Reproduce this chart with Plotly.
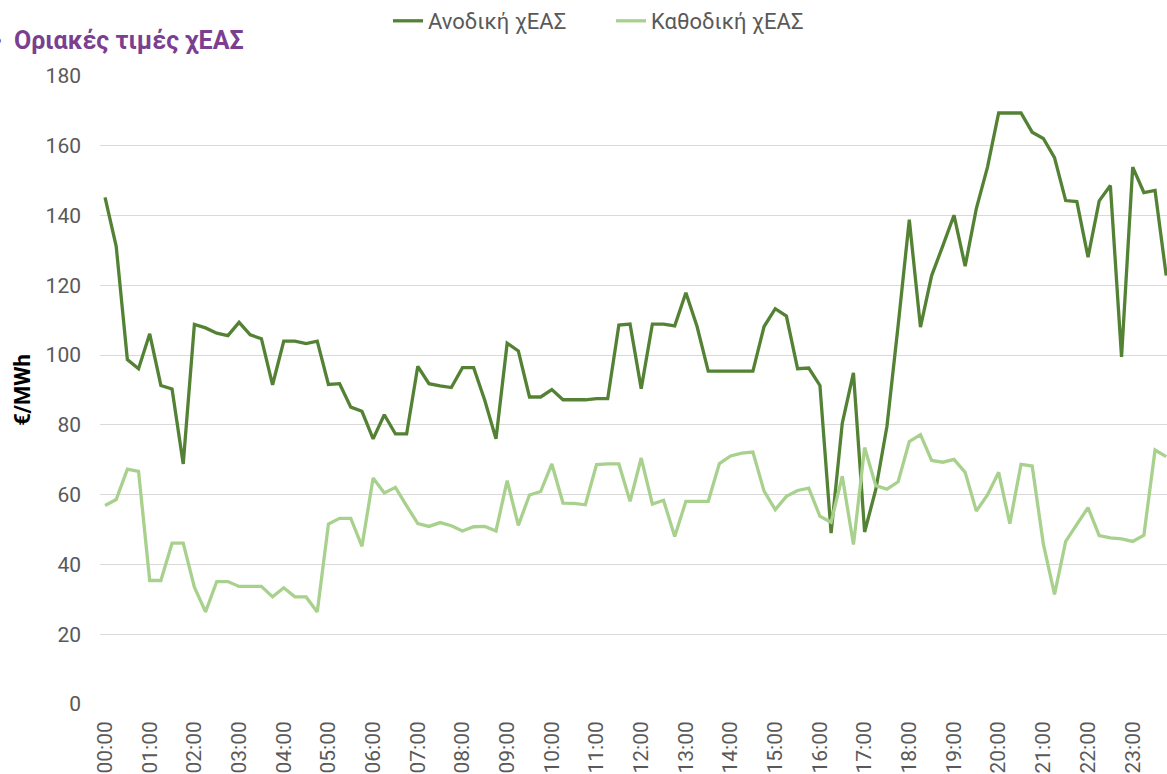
import plotly.graph_objects as go

# 15-minute intervals of the day (categories)
times = [f"{h:02d}:{m:02d}" for h in range(24) for m in (0, 15, 30, 45)]
hour_ticks = [f"{h:02d}:00" for h in range(24)]

upward = [
    145.2, 131.2, 98.7, 96.1, 106.1, 91.3, 90.3, 68.8,
    108.8, 107.8, 106.3, 105.6, 109.4, 105.8, 104.7, 91.5,
    104.0, 104.0, 103.3, 104.0, 91.6, 91.8, 85.1, 83.9,
    76.0, 82.9, 77.4, 77.4, 96.8, 91.8, 91.2, 90.7,
    96.4, 96.4, 87.0, 76.0, 103.4, 101.2, 88.0, 88.0,
    90.1, 87.2, 87.2, 87.2, 87.5, 87.5, 108.6, 108.9,
    90.4, 108.9, 108.9, 108.4, 117.9, 108.2, 95.4, 95.4,
    95.4, 95.4, 95.4, 108.2, 113.3, 111.2, 96.1, 96.3,
    91.3, 49.0, 80.5, 94.9, 49.3, 61.5, 79.6, 108.5,
    138.8, 108.0, 122.8, 131.3, 140.1, 125.5, 142.0, 153.9,
    169.4, 169.4, 169.4, 163.9, 162.1, 156.6, 144.3, 144.0,
    128.1, 144.2, 148.6, 99.5, 153.9, 146.6, 147.2, 122.8,
]

downward = [
    56.9, 58.6, 67.3, 66.7, 35.4, 35.4, 46.1, 46.1,
    33.5, 26.4, 35.1, 35.1, 33.7, 33.7, 33.7, 30.7,
    33.3, 30.7, 30.7, 26.4, 51.6, 53.2, 53.2, 45.2,
    64.8, 60.5, 62.1, 56.8, 51.7, 50.9, 52.0, 51.1,
    49.6, 50.8, 50.9, 49.6, 64.0, 51.2, 59.9, 60.9,
    68.8, 57.6, 57.5, 57.1, 68.6, 68.8, 68.8, 58.1,
    70.5, 57.3, 58.4, 48.0, 58.1, 58.1, 58.1, 68.9,
    71.1, 71.9, 72.2, 61.0, 55.7, 59.5, 61.2, 61.9,
    53.8, 52.1, 65.3, 45.7, 73.5, 62.6, 61.6, 63.7,
    75.2, 77.2, 69.8, 69.3, 70.1, 66.4, 55.3, 59.9,
    66.4, 51.7, 68.7, 68.2, 45.9, 31.4, 46.6, 51.5,
    56.3, 48.3, 47.6, 47.3, 46.6, 48.4, 72.8, 70.9,
]

series_names = ["Ανοδική χΕΑΣ", "Καθοδική χΕΑΣ"]
series_colors = ["#548235", "#A9D18E"]
title_text = "Οριακές τιμές χΕΑΣ"
y_title = "€/MWh"

W, H = 1167, 774
ML, MR, MT, MB = 100, 0, 76, 70
plot_w = W - ML - MR
plot_h = H - MT - MB

fig = go.Figure()
for name, vals, col in zip(series_names, [upward, downward], series_colors):
    fig.add_trace(go.Scatter(
        x=times, y=vals, mode="lines", name=name,
        line=dict(color=col, width=3.3),
    ))

FONT = "Roboto, Arial, sans-serif"
GRAY = "#595959"

fig.update_layout(
    width=W, height=H,
    margin=dict(l=ML, r=MR, t=MT, b=MB, pad=0, autoexpand=False),
    paper_bgcolor="white", plot_bgcolor="white",
    font=dict(family=FONT, size=21, color=GRAY),
    showlegend=True,
    legend=dict(
        orientation="h",
        xref="container", yref="container",
        x=388 / W, xanchor="left",
        y=1.0, yanchor="top",
        font=dict(family=FONT, size=22, color=GRAY),
        entrywidth=178, entrywidthmode="pixels",
        bgcolor="rgba(0,0,0,0)",
    ),
    xaxis=dict(
        type="category",
        categoryorder="array", categoryarray=times,
        range=[-0.45, 95.07],
        tickmode="array", tickvals=hour_ticks, ticktext=hour_ticks,
        tickangle=-90,
        tickfont=dict(family=FONT, size=21, color=GRAY),
        showgrid=False, zeroline=False,
        showline=False, ticks="",
        ticklabelstandoff=12,
        automargin=False,
        fixedrange=True,
    ),
    yaxis=dict(
        range=[0, 180],
        tickmode="array", tickvals=list(range(0, 181, 20)),
        tickfont=dict(family=FONT, size=21, color=GRAY),
        showgrid=True, gridcolor="#D9D9D9", gridwidth=1.3,
        zeroline=False, showline=False, ticks="",
        ticklabelstandoff=18,
        automargin=False,
        title=dict(text="<b>" + y_title + "</b>",
                   font=dict(family=FONT, size=22, color="black"),
                   standoff=8),
        fixedrange=True,
    ),
)

fig.add_annotation(
    xref="paper", yref="paper",
    x=(12 - ML) / plot_w, y=(H - MB - 40) / plot_h,
    xanchor="left", yanchor="middle",
    text="<b>" + title_text + "</b>", showarrow=False,
    font=dict(family=FONT, size=25, color="#7B3F91"),
)
fig.add_annotation(
    xref="paper", yref="paper",
    x=(-3 - ML) / plot_w, y=(H - MB - 40) / plot_h,
    xanchor="center", yanchor="middle",
    text="●", showarrow=False,
    font=dict(family=FONT, size=15, color="#7B3F91"),
)

fig.write_html(
    "out.html",
    config={"displayModeBar": False},
    post_script="document.body.style.margin='0';document.body.style.overflow='hidden';",
)
